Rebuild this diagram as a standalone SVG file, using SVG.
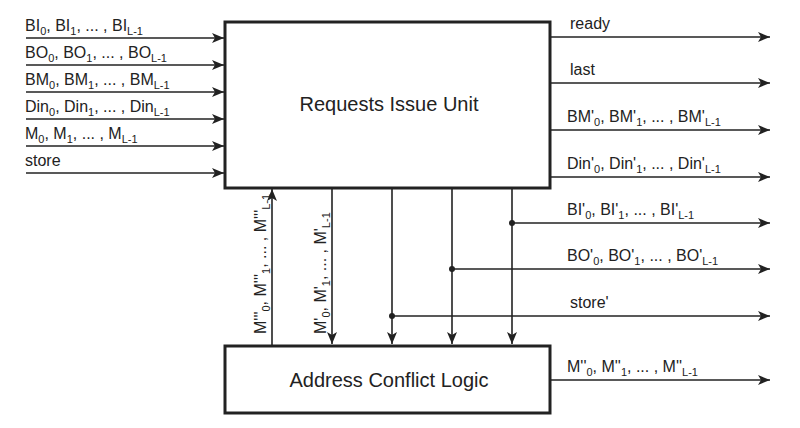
<svg xmlns="http://www.w3.org/2000/svg" width="800" height="428" viewBox="0 0 800 428">
<style>
text{font-family:"Liberation Sans",Arial,sans-serif;font-size:16px;fill:#222}
.s{font-size:11px}
.big{font-size:20px}
line{stroke:#222;stroke-width:1.6}
.box{fill:#fff;stroke:#222;stroke-width:3}
</style>
<defs>
<marker id="a" viewBox="0 0 12 10" refX="12" refY="5" markerWidth="12" markerHeight="10" markerUnits="userSpaceOnUse" orient="auto">
<path d="M0,0 L12,5 L0,10 L3,5 Z" fill="#222"/>
</marker>
</defs>
<rect width="800" height="428" fill="#fff"/>
<g id="connectors">
<line x1="26" y1="38" x2="224" y2="38" marker-end="url(#a)"/>
<line x1="26" y1="65" x2="224" y2="65" marker-end="url(#a)"/>
<line x1="26" y1="92" x2="224" y2="92" marker-end="url(#a)"/>
<line x1="26" y1="119" x2="224" y2="119" marker-end="url(#a)"/>
<line x1="26" y1="146" x2="224" y2="146" marker-end="url(#a)"/>
<line x1="26" y1="173" x2="224" y2="173" marker-end="url(#a)"/>
<line x1="551" y1="37" x2="770" y2="37" marker-end="url(#a)"/>
<line x1="551" y1="83" x2="770" y2="83" marker-end="url(#a)"/>
<line x1="551" y1="130" x2="770" y2="130" marker-end="url(#a)"/>
<line x1="551" y1="177" x2="770" y2="177" marker-end="url(#a)"/>
<line x1="512" y1="223" x2="770" y2="223" marker-end="url(#a)"/>
<line x1="452" y1="269" x2="770" y2="269" marker-end="url(#a)"/>
<line x1="392" y1="316" x2="770" y2="316" marker-end="url(#a)"/>
<line x1="551" y1="380" x2="770" y2="380" marker-end="url(#a)"/>
<line x1="272" y1="345" x2="272" y2="189" marker-end="url(#a)"/>
<line x1="332" y1="189" x2="332" y2="344" marker-end="url(#a)"/>
<line x1="392" y1="189" x2="392" y2="344" marker-end="url(#a)"/>
<line x1="452" y1="189" x2="452" y2="344" marker-end="url(#a)"/>
<line x1="512" y1="189" x2="512" y2="344" marker-end="url(#a)"/>
<circle cx="512" cy="223" r="3" fill="#222"/>
<circle cx="452" cy="269" r="3" fill="#222"/>
<circle cx="392" cy="316" r="3" fill="#222"/>
</g>
<g id="riu">
<rect class="box" x="225" y="22" width="325" height="166"/>
<text class="big" x="389" y="111" text-anchor="middle">Requests Issue Unit</text>
</g>
<g id="acl">
<rect class="box" x="225" y="346" width="325" height="67"/>
<text class="big" x="389" y="387" text-anchor="middle">Address Conflict Logic</text>
</g>
<g id="labels">
<text x="25" y="31">BI<tspan class="s" dy="4">0</tspan><tspan dy="-4">, BI</tspan><tspan class="s" dy="4">1</tspan><tspan dy="-4">, ... , BI</tspan><tspan class="s" dy="4">L-1</tspan></text>
<text x="25" y="58">BO<tspan class="s" dy="4">0</tspan><tspan dy="-4">, BO</tspan><tspan class="s" dy="4">1</tspan><tspan dy="-4">, ... , BO</tspan><tspan class="s" dy="4">L-1</tspan></text>
<text x="25" y="85">BM<tspan class="s" dy="4">0</tspan><tspan dy="-4">, BM</tspan><tspan class="s" dy="4">1</tspan><tspan dy="-4">, ... , BM</tspan><tspan class="s" dy="4">L-1</tspan></text>
<text x="25" y="112">Din<tspan class="s" dy="4">0</tspan><tspan dy="-4">, Din</tspan><tspan class="s" dy="4">1</tspan><tspan dy="-4">, ... , Din</tspan><tspan class="s" dy="4">L-1</tspan></text>
<text x="25" y="139">M<tspan class="s" dy="4">0</tspan><tspan dy="-4">, M</tspan><tspan class="s" dy="4">1</tspan><tspan dy="-4">, ... , M</tspan><tspan class="s" dy="4">L-1</tspan></text>
<text x="25" y="166">store</text>
<text x="570" y="29">ready</text>
<text x="570" y="75">last</text>
<text x="567" y="122">BM'<tspan class="s" dy="4">0</tspan><tspan dy="-4">, BM'</tspan><tspan class="s" dy="4">1</tspan><tspan dy="-4">, ... , BM'</tspan><tspan class="s" dy="4">L-1</tspan></text>
<text x="567" y="169">Din'<tspan class="s" dy="4">0</tspan><tspan dy="-4">, Din'</tspan><tspan class="s" dy="4">1</tspan><tspan dy="-4">, ... , Din'</tspan><tspan class="s" dy="4">L-1</tspan></text>
<text x="567" y="215">BI'<tspan class="s" dy="4">0</tspan><tspan dy="-4">, BI'</tspan><tspan class="s" dy="4">1</tspan><tspan dy="-4">, ... , BI'</tspan><tspan class="s" dy="4">L-1</tspan></text>
<text x="567" y="261">BO'<tspan class="s" dy="4">0</tspan><tspan dy="-4">, BO'</tspan><tspan class="s" dy="4">1</tspan><tspan dy="-4">, ... , BO'</tspan><tspan class="s" dy="4">L-1</tspan></text>
<text x="570" y="308">store'</text>
<text x="567" y="372">M''<tspan class="s" dy="4">0</tspan><tspan dy="-4">, M''</tspan><tspan class="s" dy="4">1</tspan><tspan dy="-4">, ... , M''</tspan><tspan class="s" dy="4">L-1</tspan></text>
<text transform="translate(266,334) rotate(-90)">M'''<tspan class="s" dy="4">0</tspan><tspan dy="-4">, M'''</tspan><tspan class="s" dy="4">1</tspan><tspan dy="-4">, ... , M'''</tspan><tspan class="s" dy="4">L-1</tspan></text>
<text transform="translate(326,334) rotate(-90)">M'<tspan class="s" dy="4">0</tspan><tspan dy="-4">, M'</tspan><tspan class="s" dy="4">1</tspan><tspan dy="-4">, ... , M'</tspan><tspan class="s" dy="4">L-1</tspan></text>
</g>
</svg>
